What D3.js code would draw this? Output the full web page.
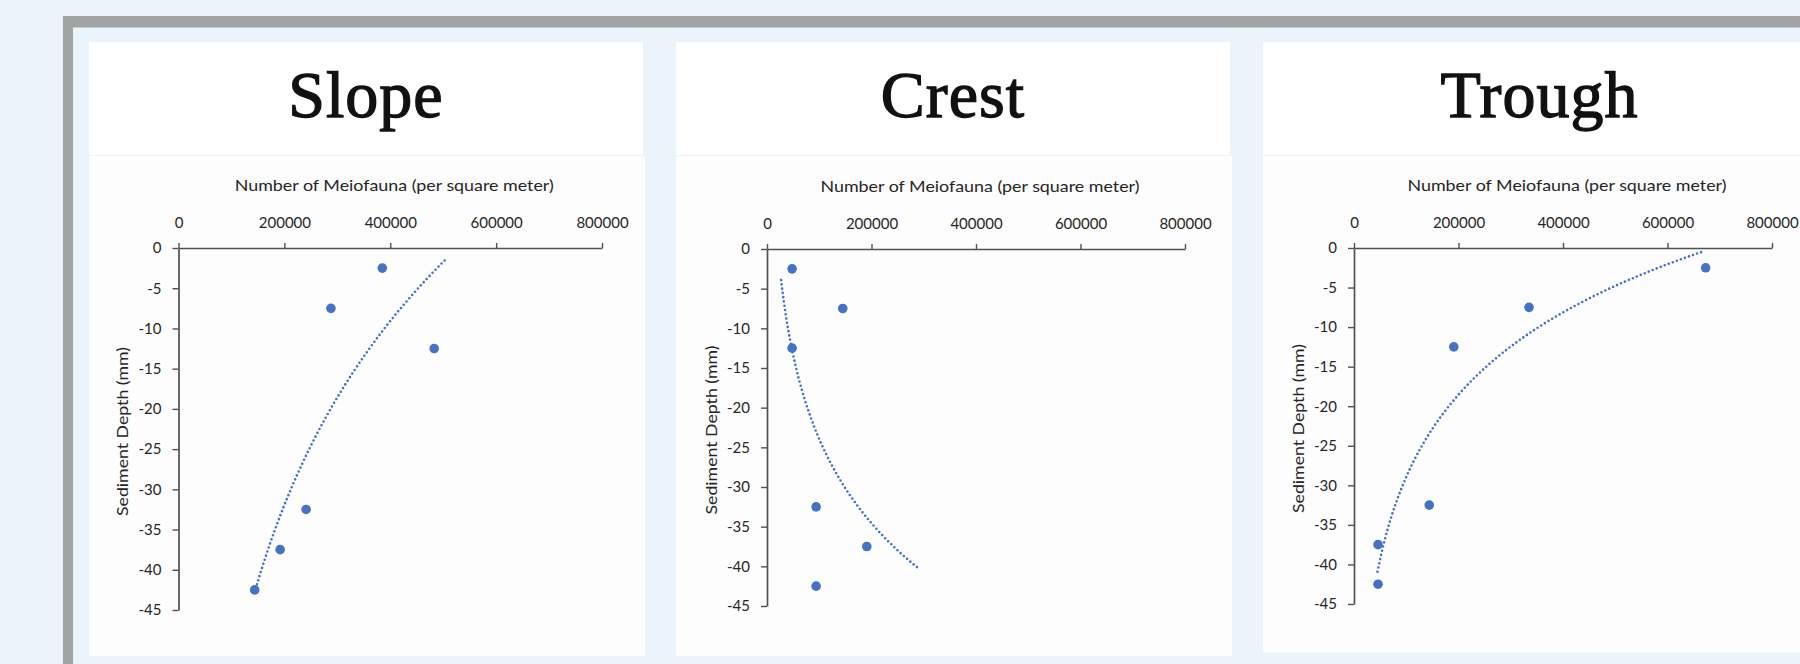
<!DOCTYPE html>
<html>
<head>
<meta charset="utf-8">
<script src="https://cdn.jsdelivr.net/npm/d3@7/dist/d3.min.js"></script>
<style>
  html, body { margin: 0; padding: 0; background: #ebf3fb; }
  svg { display: block; }
</style>
</head>
<body>
<svg id="fig" width="1800" height="664"></svg>
<script>
// ---- data ----
const siteNames = ["Slope", "Crest", "Trough"];
const depthMidpoints = [-2.5, -7.5, -12.5, -32.5, -37.5, -42.5];   // mm
const slopeCounts  = [385000, 288000, 483000, 241000, 192000, 144000];
const crestCounts  = [48000, 145000, 48000, 94000, 191000, 94000];
const troughCounts = [673000, 335000, 191000, 144000, 46000, 46000];
const countTicks = [0, 200000, 400000, 600000, 800000];
const depthTicks = [0, -5, -10, -15, -20, -25, -30, -35, -40, -45];
// x-extent over which each logarithmic trendline is drawn
const slopeTrendSpan  = [146000, 507000];
const crestTrendSpan  = [27000, 290000];
const troughTrendSpan = [45000, 668000];

const xTitle = "Number of Meiofauna (per square meter)";
const yTitle = "Sediment Depth (mm)";

// ---- layout ----
const panels = [
  { name: siteNames[0], counts: slopeCounts,  span: slopeTrendSpan,
    box: { left: 89,   right: 645,  titleRight: 643,  bottom: 656 },
    plot: { x0: 178.5, x1: 602,  y0: 248, y1: 610 } },
  { name: siteNames[1], counts: crestCounts,  span: crestTrendSpan,
    box: { left: 676,  right: 1232, titleRight: 1230, bottom: 656 },
    plot: { x0: 767,   x1: 1185, y0: 249, y1: 606 } },
  { name: siteNames[2], counts: troughCounts, span: troughTrendSpan,
    box: { left: 1263, right: 1800, titleRight: 1800, bottom: 653 },
    plot: { x0: 1354,  x1: 1772, y0: 248, y1: 604 } }
];
const titleTop = 42, titleBottom = 155;
const blue = "#4472c4";
const axisColor = "#505050";
const labelColor = "#262626";
const sans = "Lato, 'Open Sans', sans-serif";

const svg = d3.select("#fig");

// slide frame
svg.append("rect").attr("x", 63).attr("y", 16).attr("width", 1737).attr("height", 11).attr("fill", "#a2a4a3");
svg.append("rect").attr("x", 63).attr("y", 16).attr("width", 10).attr("height", 648).attr("fill", "#a2a4a3");
svg.append("rect").attr("x", 73).attr("y", 27).attr("width", 1727).attr("height", 1).attr("fill", "#c9ced3");

// least-squares fit of y = a*ln(x) + b
function logFit(xs, ys) {
  const lx = xs.map(Math.log);
  const mx = d3.mean(lx), my = d3.mean(ys);
  let sxy = 0, sxx = 0;
  lx.forEach((v, i) => { sxy += (v - mx) * (ys[i] - my); sxx += (v - mx) * (v - mx); });
  const a = sxy / sxx;
  return { a, b: my - a * mx };
}

panels.forEach(p => {
  const g = svg.append("g");
  const bx = p.box;

  // title card and chart card
  g.append("rect").attr("x", bx.left).attr("y", titleTop)
    .attr("width", bx.titleRight - bx.left).attr("height", titleBottom - titleTop).attr("fill", "#ffffff");
  g.append("rect").attr("x", bx.left).attr("y", titleBottom + 1)
    .attr("width", bx.right - bx.left).attr("height", bx.bottom - titleBottom - 1).attr("fill", "#fdfdfd");

  g.append("text")
    .attr("x", (bx.left + bx.titleRight) / 2 + (bx.titleRight === 1800 ? 8 : 0))
    .attr("y", 117)
    .attr("text-anchor", "middle")
    .attr("font-family", "'Liberation Serif', 'DejaVu Serif', serif")
    .attr("font-size", 66)
    .attr("letter-spacing", 1)
    .attr("fill", "#111")
    .attr("stroke", "#111")
    .attr("stroke-width", 1.3)
    .text(p.name);

  const pl = p.plot;
  const x = d3.scaleLinear().domain([0, 800000]).range([pl.x0, pl.x1]);
  const y = d3.scaleLinear().domain([0, -45]).range([pl.y0, pl.y1]);

  // axes
  const xAxis = d3.axisTop(x).tickValues(countTicks).tickSize(5).tickSizeOuter(0)
    .tickPadding(15.5).tickFormat(d => String(d));
  const yAxis = d3.axisLeft(y).tickValues(depthTicks).tickSize(6).tickSizeOuter(0)
    .tickPadding(11).tickFormat(d => String(d));

  const gx = g.append("g").attr("transform", `translate(0,${pl.y0})`).call(xAxis);
  const gy = g.append("g").attr("transform", `translate(${pl.x0},0)`).call(yAxis);
  [gx, gy].forEach(a => {
    a.select(".domain").attr("stroke", axisColor).attr("stroke-width", 1.7);
    a.selectAll(".tick line").attr("stroke", axisColor).attr("stroke-width", 1.4);
    a.selectAll(".tick text").attr("fill", labelColor).attr("font-family", sans).attr("font-size", 15);
  });

  // axis titles
  g.append("text")
    .attr("x", (pl.x0 + pl.x1) / 2 + 4)
    .attr("y", pl.y0 - 57)
    .attr("text-anchor", "middle")
    .attr("font-family", sans).attr("font-size", 16).attr("fill", labelColor)
    .attr("textLength", 319).attr("lengthAdjust", "spacingAndGlyphs")
    .text(xTitle);
  g.append("text")
    .attr("transform", `translate(${pl.x0 - 56},${(pl.y0 + pl.y1) / 2 + 2.5}) rotate(-90)`)
    .attr("dy", "0.35em")
    .attr("text-anchor", "middle")
    .attr("font-family", sans).attr("font-size", 16).attr("fill", labelColor)
    .attr("textLength", 169).attr("lengthAdjust", "spacingAndGlyphs")
    .text(yTitle);

  // logarithmic trendline
  const fit = logFit(p.counts, depthMidpoints);
  const lnS = Math.log(p.span[0]), lnE = Math.log(p.span[1]);
  const curve = d3.range(0, 81).map(i => {
    const cx = Math.exp(lnS + (lnE - lnS) * i / 80);
    return [cx, fit.a * Math.log(cx) + fit.b];
  });
  g.append("path")
    .datum(curve)
    .attr("fill", "none")
    .attr("stroke", blue)
    .attr("stroke-width", 2.6)
    .attr("stroke-linecap", "round")
    .attr("stroke-dasharray", "0 4.3")
    .attr("d", d3.line().x(d => x(d[0])).y(d => y(d[1])));

  // observations
  g.selectAll("circle.obs")
    .data(p.counts.map((c, i) => ({ c, d: depthMidpoints[i] })))
    .join("circle")
    .attr("class", "obs")
    .attr("cx", d => x(d.c))
    .attr("cy", d => y(d.d))
    .attr("r", 4.8)
    .attr("fill", blue);
});
</script>
</body>
</html>
